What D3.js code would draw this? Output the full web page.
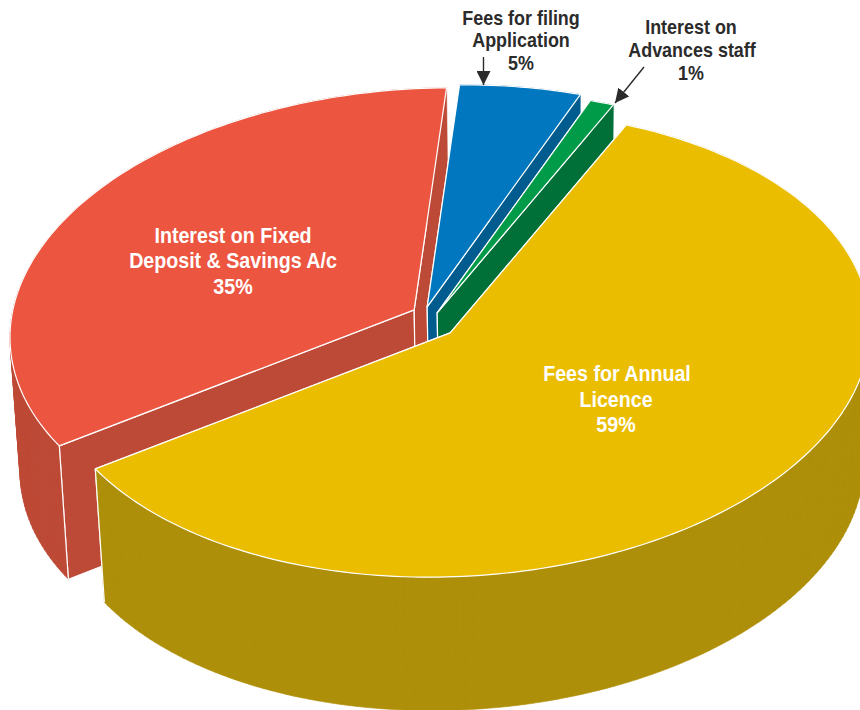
<!DOCTYPE html>
<html>
<head>
<meta charset="utf-8">
<script src="https://cdn.jsdelivr.net/npm/d3@7"></script>
<style>
  body { margin: 0; background: #fff; }
  svg { display: block; }
  text { font-family: "Liberation Sans", Arial, sans-serif; font-weight: bold; text-anchor: middle; }
</style>
</head>
<body>
<svg id="chart"></svg>
<script>
var categories = ["Fees for Annual Licence", "Interest on Fixed Deposit & Savings A/c", "Fees for filing Application", "Interest on Advances staff"];
var shares = [59, 35, 5, 1];

var topColors = ["#ebbd00", "#ec553f", "#0077be", "#009b48"];
var wallColors = ["#ae8f0a", "#bd4a36", "#005b8f", "#007038"];
// how far each slice is pulled out from the yellow one
var explodeX = [0, -36, -23, -13];
var explodeY = [0, -23, -26, -20];
// drawing order, yellow has to be on top
var drawOrder = [1, 2, 3, 0];

var width = 860, height = 710;
var svg = d3.select("#chart").attr("width", width).attr("height", height);

var startAngle = 26.3 * Math.PI / 180;
var pie = d3.pie().sort(null).startAngle(startAngle).endAngle(startAngle + 2 * Math.PI);
var slices = pie(shares);

// top and bottom rim of the disc, as ellipses
var topRim = { cx: 458, cy: 344, a: 412, b: 232.6 };
var bottomRim = { cx: 460, cy: 478, a: 404, b: 232 };
var shear = -0.04;

// the centre of the pie sits off the ellipse centre because of the perspective
var apex = [-0.019, -0.049];
var apexLen2 = apex[0] * apex[0] + apex[1] * apex[1];

function perspective(angle) {
    var u = Math.sin(angle), v = -Math.cos(angle);
    var dot = u * apex[0] + v * apex[1];
    var k = dot / apexLen2;
    var g = Math.sqrt(1 - apexLen2);
    var pu = k * apex[0], pv = k * apex[1];
    return [(apex[0] + pu + (u - pu) * g) / (1 + dot), (apex[1] + pv + (v - pv) * g) / (1 + dot)];
}

function place(p, rim, i) {
    var dx = rim.a * p[0];
    return [rim.cx + dx + explodeX[i], rim.cy + rim.b * p[1] + shear * dx + explodeY[i]];
}

function rimPoints(s, rim, i) {
    var n = Math.ceil((s.endAngle - s.startAngle) / 0.02);
    return d3.range(n + 1).map(function (k) {
        return place(perspective(s.startAngle + (s.endAngle - s.startAngle) * k / n), rim, i);
    });
}

var line = d3.line();
function closedPath(pts) { return line(pts) + "Z"; }
// all quads wound the same way, or the nonzero fill leaves holes where they overlap
function woundPath(pts) {
    return closedPath(d3.polygonArea(pts) < 0 ? pts.slice().reverse() : pts);
}

var chart = svg.append("g");

function strokeWhite(sel) {
    sel.attr("stroke", "#fff")
        .attr("stroke-width", 1.2)
        .attr("stroke-linejoin", "round");
}

drawOrder.forEach(function (i) {
    var s = slices[i];
    var topEdge = rimPoints(s, topRim, i);
    var bottomEdge = rimPoints(s, bottomRim, i);
    var last = topEdge.length - 1;
    var a0 = place(apex, topRim, i);
    var a1 = place(apex, bottomRim, i);
    var g = chart.append("g").attr("class", "slice");

    // the two cut faces
    g.selectAll(".cut")
        .data([[a0, topEdge[0], bottomEdge[0], a1], [a0, topEdge[last], bottomEdge[last], a1]])
        .enter().append("path")
        .attr("class", "cut")
        .attr("d", closedPath)
        .attr("fill", wallColors[i])
        .call(strokeWhite);

    // outer wall: the quads in one path, so the silhouette runs straight
    // between the two rims and no seams show
    var wallPath = "";
    d3.range(last).forEach(function (k) {
        wallPath += woundPath([topEdge[k], topEdge[k + 1], bottomEdge[k + 1], bottomEdge[k]]);
    });
    g.append("path")
        .attr("class", "wall")
        .attr("d", wallPath)
        .attr("fill", wallColors[i])
        .attr("stroke", wallColors[i])
        .attr("stroke-width", 0.6);

    // white corner line, only where a corner faces the viewer
    var corners = [];
    if (Math.cos(s.startAngle) < 0) corners.push([topEdge[0], bottomEdge[0]]);
    if (Math.cos(s.endAngle) < 0) corners.push([topEdge[last], bottomEdge[last]]);
    g.selectAll(".corner")
        .data(corners)
        .enter().append("path")
        .attr("class", "corner")
        .attr("d", line)
        .call(strokeWhite);

    g.append("path")
        .attr("class", "top")
        .attr("d", closedPath([a0].concat(topEdge)))
        .attr("fill", topColors[i])
        .call(strokeWhite);
});

// labels, one entry per text line
var labelLines = [
    { t: "Fees for Annual", x: 617, y: 381, size: 22, sx: 0.893, fill: "#fff" },
    { t: "Licence", x: 616, y: 407, size: 22, sx: 0.893, fill: "#fff" },
    { t: "59%", x: 616, y: 432, size: 22, sx: 0.893, fill: "#fff" },
    { t: "Interest on Fixed", x: 233, y: 243, size: 22, sx: 0.893, fill: "#fff" },
    { t: "Deposit & Savings A/c", x: 233, y: 268, size: 22, sx: 0.893, fill: "#fff" },
    { t: "35%", x: 233, y: 294, size: 22, sx: 0.893, fill: "#fff" },
    { t: "Fees for filing", x: 521, y: 25, size: 19.5, sx: 0.92, fill: "#2b2b2b" },
    { t: "Application", x: 521, y: 47, size: 19.5, sx: 0.92, fill: "#2b2b2b" },
    { t: "5%", x: 521, y: 70, size: 19.5, sx: 0.92, fill: "#2b2b2b" },
    { t: "Interest on", x: 691, y: 34, size: 19.5, sx: 0.92, fill: "#2b2b2b" },
    { t: "Advances staff", x: 692, y: 57, size: 19.5, sx: 0.92, fill: "#2b2b2b" },
    { t: "1%", x: 691, y: 80, size: 19.5, sx: 0.92, fill: "#2b2b2b" }
];

svg.selectAll(".label")
    .data(labelLines)
    .enter().append("text")
    .attr("class", "label")
    .attr("transform", function (d) { return "translate(" + d.x + "," + d.y + ") scale(" + d.sx + ",1)"; })
    .attr("font-size", function (d) { return d.size; })
    .attr("fill", function (d) { return d.fill; })
    .text(function (d) { return d.t; });

// leader arrows for the two small slices
var defs = svg.append("defs");
defs.append("marker")
    .attr("id", "head")
    .attr("viewBox", "0 0 14 14")
    .attr("refX", 14).attr("refY", 7)
    .attr("markerWidth", 14).attr("markerHeight", 14)
    .attr("markerUnits", "userSpaceOnUse")
    .attr("orient", "auto")
    .append("path")
    .attr("d", "M0,0L14,7L0,14Z")
    .attr("fill", "#2b2b2b");

var arrows = [[[483.5, 57], [483.5, 85]], [[644, 67], [615, 103]]];
svg.selectAll(".arrow")
    .data(arrows)
    .enter().append("path")
    .attr("class", "arrow")
    .attr("d", line)
    .attr("stroke", "#2b2b2b")
    .attr("stroke-width", 1.4)
    .attr("fill", "none")
    .attr("marker-end", "url(#head)");
</script>
</body>
</html>
